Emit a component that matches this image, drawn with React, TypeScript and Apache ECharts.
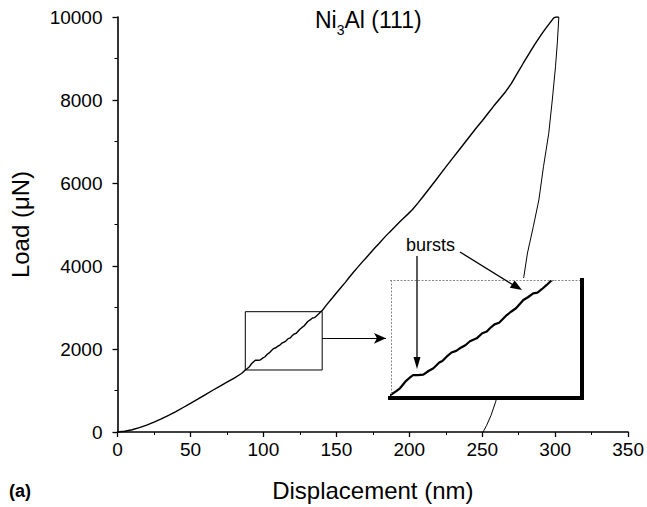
import React, { useEffect, useRef } from "react";
import * as echarts from "echarts";

// Indentation load–displacement record, Ni3Al (111)
const loadingCurve: [number, number][] = [
  [0, 0], [5, 18], [10, 55], [15, 105], [20, 165], [25, 240], [30, 318], [35, 400],
  [40, 490], [45, 590], [50, 690], [55, 790], [60, 895], [65, 1000], [70, 1100],
  [75, 1200], [80, 1300], [85, 1410], [87.6, 1494], [89, 1530], [90.2, 1565],
  [92, 1650], [93.5, 1700], [94.5, 1730], [96, 1728], [97.8, 1735], [99.5, 1780],
  [101.1, 1813], [103, 1885], [104, 1905], [105.4, 1958], [107, 2010], [108.5, 2030],
  [109.7, 2062], [111.5, 2100], [113, 2150], [115.2, 2186], [117, 2250], [118.5, 2270],
  [119.5, 2311], [121, 2360], [122.5, 2380], [125, 2476], [126.5, 2520], [128, 2560],
  [130.4, 2662], [132, 2700], [133.6, 2746], [135, 2755], [136.5, 2800], [138, 2850],
  [139.1, 2890], [140.3, 2925], [143, 3050], [147.5, 3240], [150, 3350], [153, 3475],
  [156, 3600], [158.9, 3730], [162, 3860], [165, 3985], [168, 4105], [170.3, 4195],
  [173, 4300], [176, 4420], [179.4, 4550], [183, 4690], [186.3, 4810], [190, 4940],
  [193, 5050], [196, 5150], [199, 5250], [202.2, 5360], [206, 5520], [210, 5700],
  [214, 5880], [218, 6060], [222.7, 6280], [226, 6430], [230, 6610], [234, 6790],
  [238, 6970], [242, 7150], [246, 7330], [250, 7500], [254, 7680], [258, 7860],
  [262, 8030], [266, 8200], [270, 8400], [274, 8640], [278, 8880], [282, 9110],
  [286, 9340], [290, 9550], [293, 9700], [296, 9840], [299, 9980], [300.5, 10000],
  [302.5, 10000],
];

const unloadingCurve: [number, number][] = [
  [302.5, 10000], [301.5, 9400], [300.2, 8800], [298, 8000], [295.6, 7200],
  [292, 6400], [288.8, 5590], [285, 4950], [281, 4313], [278.5, 3742], [275, 3100],
  [271, 2450], [267, 1850], [263, 1250], [259.2, 730], [256, 400], [253, 160],
  [251, 30], [250.5, 0],
];

// Axis extents and tick steps
const xRange = [0, 350];
const xStep = 50;
const yRange = [0, 10000];
const yStep = 2000;

// Region magnified in the inset (nm, µN)
const zoomX = [87.6, 140.3];
const zoomY = [1494, 2899];
// Data window shown inside the inset
const insetX = [87.6, 149.5];
const insetY = [1444, 2899];
// Where the box-to-inset arrow ends (nm)
const pointerEndX = 184;

const FONT = '"Liberation Sans", Arial, Helvetica, sans-serif';

export default function App() {
  const ref = useRef<HTMLDivElement>(null);

  useEffect(() => {
    if (!ref.current) return;
    const chart = echarts.init(ref.current, undefined, { renderer: "svg" });

    const boxPath: [number, number][] = [
      [zoomX[0], zoomY[0]],
      [zoomX[1], zoomY[0]],
      [zoomX[1], zoomY[1]],
      [zoomX[0], zoomY[1]],
      [zoomX[0], zoomY[0]],
    ];
    const midY = (zoomY[0] + zoomY[1]) / 2 + 60;

    const axisText = {
      color: "#000",
      fontFamily: FONT,
      fontSize: 19,
      formatter: (v: number) => String(v),
    };

    chart.setOption({
      animation: false,
      backgroundColor: "#fff",
      title: {
        text: "{n|Ni}{s|3}{n|Al (111)}",
        left: 315,
        top: 3,
        padding: 0,
        textStyle: {
          fontFamily: FONT,
          color: "#000",
          fontWeight: "normal",
          rich: {
            n: { fontFamily: FONT, fontSize: 23, lineHeight: 34, color: "#000" },
            s: { fontFamily: FONT, fontSize: 14, lineHeight: 14, verticalAlign: "bottom", color: "#000" },
          },
        },
      },
      grid: [
        { left: 117.5, top: 17, width: 512.5, height: 415 },
        { left: 392, top: 281, width: 190, height: 117 },
      ],
      xAxis: [
        {
          type: "value",
          gridIndex: 0,
          min: xRange[0],
          max: xRange[1],
          interval: xStep,
          name: "Displacement (nm)",
          nameLocation: "middle",
          nameGap: 46,
          nameTextStyle: { color: "#000", fontFamily: FONT, fontSize: 24 },
          axisLine: { show: true, onZero: false, lineStyle: { color: "#000", width: 1.6 } },
          axisTick: { show: true, inside: false, length: 5, lineStyle: { color: "#000", width: 1.3 } },
          minorTick: { show: true, splitNumber: 2, length: 3, lineStyle: { color: "#000", width: 1 } },
          axisLabel: { ...axisText, margin: 8 },
          splitLine: { show: false },
        },
        {
          type: "value",
          gridIndex: 1,
          min: insetX[0],
          max: insetX[1],
          show: false,
          splitLine: { show: false },
        },
      ],
      yAxis: [
        {
          type: "value",
          gridIndex: 0,
          min: yRange[0],
          max: yRange[1],
          interval: yStep,
          name: "Load (\u03bcN)",
          nameLocation: "middle",
          nameGap: 85,
          nameTextStyle: { color: "#000", fontFamily: FONT, fontSize: 24 },
          axisLine: { show: true, onZero: false, lineStyle: { color: "#000", width: 1.6 } },
          axisTick: { show: true, inside: false, length: 5, lineStyle: { color: "#000", width: 1.3 } },
          minorTick: { show: true, splitNumber: 2, length: 3, lineStyle: { color: "#000", width: 1 } },
          axisLabel: { ...axisText, margin: 15 },
          splitLine: { show: false },
        },
        {
          type: "value",
          gridIndex: 1,
          min: insetY[0],
          max: insetY[1],
          show: false,
          splitLine: { show: false },
        },
      ],
      series: [
        {
          type: "line",
          name: "loading",
          xAxisIndex: 0,
          yAxisIndex: 0,
          data: loadingCurve,
          showSymbol: false,
          symbol: "none",
          lineStyle: { color: "#000", width: 1.4 },
          z: 2,
        },
        {
          type: "line",
          name: "unloading",
          xAxisIndex: 0,
          yAxisIndex: 0,
          data: unloadingCurve,
          showSymbol: false,
          symbol: "none",
          lineStyle: { color: "#000", width: 1 },
          z: 2,
        },
        {
          type: "line",
          name: "zoom box",
          xAxisIndex: 0,
          yAxisIndex: 0,
          data: boxPath,
          showSymbol: false,
          symbol: "none",
          lineStyle: { color: "#000", width: 1 },
          z: 3,
          markLine: {
            silent: true,
            symbol: ["none", "arrow"],
            symbolSize: [8, 12],
            label: { show: false },
            lineStyle: { color: "#000", width: 1, type: "solid" },
            data: [[{ coord: [zoomX[1], midY] }, { coord: [pointerEndX, midY] }]],
          },
        },
        {
          type: "line",
          name: "inset",
          xAxisIndex: 1,
          yAxisIndex: 1,
          data: loadingCurve,
          showSymbol: false,
          symbol: "none",
          clip: true,
          lineStyle: { color: "#000", width: 2.2 },
          z: 10,
        },
      ],
      graphic: [
        // inset background and frame
        { type: "rect", z: 5, shape: { x: 389, y: 278, width: 195, height: 122 }, style: { fill: "#fff" } },
        { type: "line", z: 11, shape: { x1: 390, y1: 280.5, x2: 582, y2: 280.5 }, style: { stroke: "#888", lineWidth: 1, lineDash: [2, 1.5] } },
        { type: "line", z: 11, shape: { x1: 391.5, y1: 280, x2: 391.5, y2: 397 }, style: { stroke: "#888", lineWidth: 1, lineDash: [2, 1.5] } },
        { type: "line", z: 11, shape: { x1: 388, y1: 398, x2: 584, y2: 398 }, style: { stroke: "#000", lineWidth: 4 } },
        { type: "line", z: 11, shape: { x1: 582, y1: 278, x2: 582, y2: 400 }, style: { stroke: "#000", lineWidth: 4 } },
        // "bursts" callout
        {
          type: "text", z: 12, x: 406, y: 245,
          style: { text: "bursts", fill: "#000", font: `18px ${FONT}`, textVerticalAlign: "middle" },
        },
        { type: "line", z: 12, shape: { x1: 417, y1: 256, x2: 417, y2: 360 }, style: { stroke: "#000", lineWidth: 1.3 } },
        { type: "polygon", z: 12, shape: { points: [[413.5, 357], [420.5, 357], [417, 369]] }, style: { fill: "#000" } },
        { type: "line", z: 12, shape: { x1: 460, y1: 252, x2: 514, y2: 285.5 }, style: { stroke: "#000", lineWidth: 1.3 } },
        { type: "polygon", z: 12, shape: { points: [[509.8, 287.8], [514.6, 280.6], [522, 290]] }, style: { fill: "#000" } },
        // panel tag
        {
          type: "text", z: 12, x: 9, y: 491,
          style: { text: "(a)", fill: "#000", font: `bold 18px ${FONT}`, textVerticalAlign: "middle" },
        },
      ],
    });

    return () => chart.dispose();
  }, []);

  return (
    <div
      ref={ref}
      style={{ position: "fixed", left: 0, top: 0, width: 647, height: 507 }}
    />
  );
}
